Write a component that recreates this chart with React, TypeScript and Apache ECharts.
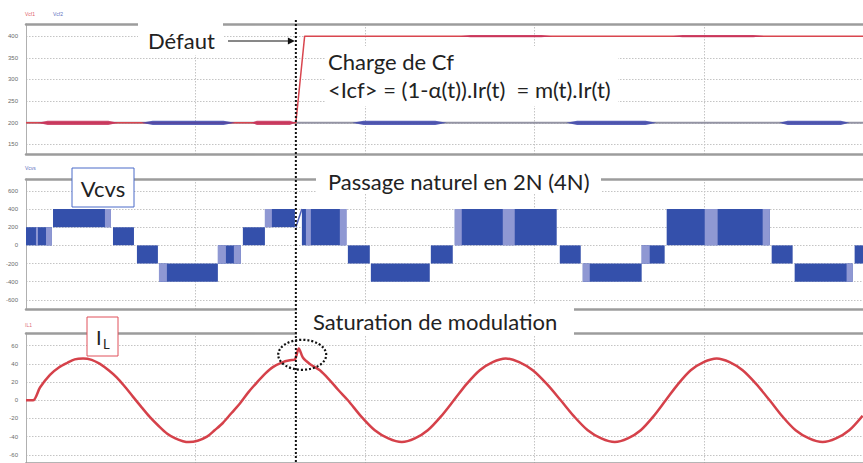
import React, { useEffect, useRef } from "react";
import * as echarts from "echarts";

// time axis in ms
const X_MAX = 79;
const X_STEP = 16;
const FAULT_T = 25.47;

// Panel 1 : capacitor voltages (V)
const vcf1Line: [number, number][] = [[0, 200], [25.47, 200], [26.3, 400], [79, 400]];
const vcf2Line: [number, number][] = [[0, 200], [79, 200]];
// ripple bursts: [start, end, level, amplitude]
const vcf1Ripple: number[][] = [[1.13, 8.68, 200, 5], [21.3, 25.4, 200, 5], [40.9, 49.7, 400, 2.5], [60.9, 69.7, 400, 2.5]];
const vcf2Ripple: number[][] = [[10.9, 19.7, 200, 5], [30.8, 39.7, 200, 5], [51.0, 59.5, 200, 5], [71.1, 77.7, 200, 5]];

// Panel 2 : Vcvs levels: [start, end, low, high]
const vcvsBlocks: number[][] = [
  [0, 2.45, 0, 200], [2.55, 8.02, 200, 400], [8.21, 10.19, 0, 200], [10.47, 12.45, -200, 0],
  [12.55, 18.11, -400, -200], [18.11, 20.28, -200, 0], [20.47, 22.55, 0, 200], [22.55, 25.38, 200, 400],
  [26.04, 30.19, 0, 400], [30.38, 32.45, -200, 0], [32.55, 38.11, -400, -200], [38.21, 40.28, -200, 0],
  [40.47, 50.09, 0, 400], [50.38, 52.36, -200, 0], [52.55, 58.11, -400, -200], [58.11, 60.28, -200, 0],
  [60.47, 70.19, 0, 400], [70.38, 72.36, -200, 0], [72.55, 78.02, -400, -200], [78.21, 79, -200, 0],
];
const vcvsLight: number[][] = [
  [0.94, 1.13, 0, 200], [1.89, 2.45, 0, 200], [7.45, 8.02, 200, 400], [12.55, 13.3, -400, -200],
  [18.11, 18.87, -200, 0], [19.62, 20.28, -200, 0], [22.55, 23.21, 200, 400],
  [26.42, 26.89, 0, 400], [29.62, 30.28, 0, 400], [40.47, 41.13, 0, 400], [45.0, 46.13, 0, 400],
  [52.55, 53.21, -400, -200], [58.11, 58.87, -200, 0], [64.06, 65.28, 0, 400], [69.53, 70.19, 0, 400],
  [77.45, 78.02, -400, -200],
];
const vcvsRamp: [number, number][] = [[25.47, 200], [26.04, 400]];

// Panel 3 : inductor current (A)
const ilPoints: [number, number][] = [
  [0, 0], [0.66, 0], [1.32, 14], [2.26, 28], [3.1, 36], [3.87, 41], [4.6, 45], [5.38, 46], [6.2, 44.5],
  [6.98, 40], [7.8, 33], [8.58, 25], [9.4, 14], [10.09, 4], [10.9, -7.5], [11.7, -18.5], [12.5, -28],
  [13.3, -36.5], [14.1, -42], [14.81, -45], [15.38, -46], [16.2, -44.5], [17.08, -40], [17.8, -33],
  [18.58, -25], [19.4, -14], [20.19, -3.5], [21.0, 9], [21.79, 19.5], [22.6, 29.5], [23.3, 36.5], [24.25, 42],
  [24.91, 44], [25.38, 45], [25.75, 57], [26.13, 47], [26.79, 40], [27.74, 33], [28.68, 22], [29.5, 11],
  [30.38, 0], [31.65, -18], [32.92, -33], [34.2, -42], [35.47, -46], [36.7, -42], [37.92, -33],
  [39.15, -18], [40.38, 0], [41.6, 18], [42.83, 33], [44.05, 42], [45.28, 46], [46.55, 42], [47.83, 33],
  [49.15, 18], [50.47, 0], [51.75, -18], [53.02, -33], [54.3, -42], [55.57, -46], [56.8, -42],
  [58.02, -33], [59.2, -18], [60.38, 0], [61.56, 18], [62.74, 33], [63.96, 42], [65.19, 46], [66.41, 42],
  [67.64, 33], [68.91, 18], [70.19, 0], [71.41, -18], [72.64, -33], [73.91, -42], [75.19, -46],
  [76.45, -42], [77.7, -33], [78.96, -17],
];

const yRanges = [
  { min: 128, max: 428, split: 6 },
  { min: -700, max: 730, split: 7 },
  { min: -69, max: 74, split: 7 },
];
const gridTops = [24, 179, 333];
const GRID_H = 130;

const FONT = "Lato, 'Open Sans', sans-serif";

export default function App() {
  const ref = useRef<HTMLDivElement>(null);
  useEffect(() => {
    document.body.style.margin = "0";
    const chart = echarts.init(ref.current!, null, { renderer: "svg" });

    const blockRender = (fill: string) => (_p: any, api: any) => {
      const a = api.coord([api.value(0), api.value(3)]);
      const b = api.coord([api.value(1), api.value(2)]);
      return {
        type: "rect",
        shape: { x: a[0], y: a[1], width: b[0] - a[0], height: b[1] - a[1] },
        style: { fill },
      };
    };
    const rippleRender = (fill: string) => (_p: any, api: any) => {
      const x0 = api.value(0), x1 = api.value(1), lvl = api.value(2), amp = api.value(3);
      const l = api.coord([x0, lvl]);
      const r = api.coord([x1, lvl]);
      const top = api.coord([x0, lvl + amp])[1];
      const bot = api.coord([x0, lvl - amp])[1];
      const w = r[0] - l[0];
      return {
        type: "polygon",
        shape: {
          points: [
            [l[0], l[1]], [l[0] + w * 0.12, top], [r[0] - w * 0.12, top],
            [r[0], r[1]], [r[0] - w * 0.12, bot], [l[0] + w * 0.12, bot],
          ],
        },
        style: { fill, opacity: 0.85 },
      };
    };

    const grids = gridTops.map((t) => ({ left: 26, right: 0, top: t, height: GRID_H }));
    const xBottom = gridTops.map((_, i) => ({
      type: "value", gridIndex: i, min: 0, max: X_MAX, interval: X_STEP,
      axisLine: { show: true, onZero: false, lineStyle: { color: "#9c9c9c", width: 2.5 } },
      axisTick: { show: false }, axisLabel: { show: false },
      splitLine: { show: true, showMaxLine: false, showMinLine: false, lineStyle: { color: "#c4c4c4", type: [1.5, 1.5], width: 1 } },
    }));
    const xTop = gridTops.map((_, i) => ({
      type: "value", gridIndex: i, position: "top", min: 0, max: X_MAX, interval: X_STEP,
      axisLine: { show: true, onZero: false, lineStyle: { color: "#9c9c9c", width: 2.5 } },
      axisTick: { show: false }, axisLabel: { show: false }, splitLine: { show: false },
    }));
    const yAxes = yRanges.map((r, i) => ({
      type: "value", gridIndex: i, min: r.min, max: r.max, splitNumber: r.split,
      axisLine: { show: true, lineStyle: { color: "#b0b0b0", width: 1 } },
      axisTick: { show: false },
      axisLabel: { show: true, showMinLabel: false, showMaxLabel: false, fontSize: 6, color: "#6a6a6a", margin: 8, fontFamily: "'Liberation Sans', Arial, sans-serif" },
      splitLine: { show: true, showMinLine: false, showMaxLine: false, lineStyle: { color: "#c4c4c4", type: [1.5, 1.5], width: 1 } },
    }));

    chart.setOption({
      animation: false,
      backgroundColor: "#ffffff",
      grid: grids,
      xAxis: [...xBottom, ...xTop],
      yAxis: yAxes,
      series: [
        { name: "Vcf2", type: "line", xAxisIndex: 0, yAxisIndex: 0, data: vcf2Line, showSymbol: false, lineStyle: { color: "#9494a4", width: 2 }, z: 3 },
        { name: "Vcf1", type: "line", xAxisIndex: 0, yAxisIndex: 0, data: vcf1Line, showSymbol: false, lineStyle: { color: "#d9464f", width: 1.5 }, z: 4 },
        { name: "Vcf1 ripple", type: "custom", xAxisIndex: 0, yAxisIndex: 0, data: vcf1Ripple, encode: { x: [0, 1], y: 2 }, renderItem: rippleRender("#c8325a"), z: 5 },
        { name: "Vcf2 ripple", type: "custom", xAxisIndex: 0, yAxisIndex: 0, data: vcf2Ripple, encode: { x: [0, 1], y: 2 }, renderItem: rippleRender("#4048ae"), z: 5 },
        { name: "Vcvs", type: "custom", xAxisIndex: 1, yAxisIndex: 1, data: vcvsBlocks, encode: { x: [0, 1], y: [2, 3] }, renderItem: blockRender("#3450ab"), z: 3 },
        { name: "Vcvs light", type: "custom", xAxisIndex: 1, yAxisIndex: 1, data: vcvsLight, encode: { x: [0, 1], y: [2, 3] }, renderItem: blockRender("#8f98d3"), z: 4 },
        { name: "Vcvs ramp", type: "line", xAxisIndex: 1, yAxisIndex: 1, data: vcvsRamp, showSymbol: false, lineStyle: { color: "#5060b8", width: 1.5 }, z: 4 },
        { name: "IL", type: "line", xAxisIndex: 2, yAxisIndex: 2, data: ilPoints, showSymbol: false, smooth: 0.3, lineStyle: { color: "#d5414a", width: 2.5 }, z: 4 },
      ],
    });

    const fx = chart.convertToPixel({ xAxisIndex: 0 }, FAULT_T) as number;
    const ellC = chart.convertToPixel({ xAxisIndex: 2, yAxisIndex: 2 } as any, [FAULT_T + 0.6, 50]) as number[];
    const txt = (text: string, x: number, y: number, size: number, extra: any = {}) => ({
      type: "text", z: 102, style: { text, x, y, font: `${size}px ${FONT}`, fill: "#222", verticalAlign: "middle", align: "left", ...extra },
    });
    const small = (text: string, x: number, y: number, color: string) => ({
      type: "text", z: 102, style: { text, x, y, font: "5px 'Liberation Sans', Arial, sans-serif", fill: color, verticalAlign: "middle" },
    });
    const whiteRect = (x: number, y: number, w: number, h: number, stroke?: string) => ({
      type: "rect", z: 100, shape: { x, y, width: w, height: h },
      style: { fill: "#ffffff", stroke: stroke || null, lineWidth: stroke ? 1 : 0 },
    });

    chart.setOption({
      graphic: [
        small("Vcf1", 25, 14, "#e0606a"),
        small("Vcf2", 53, 14, "#6070c0"),
        small("Vcvs", 25, 168, "#6070c0"),
        small("IL1", 25, 325, "#e0707a"),
        { type: "line", z: 99, shape: { x1: fx, y1: 20, x2: fx, y2: 463 }, style: { stroke: "#111", lineWidth: 2, lineDash: [2, 2] } },
        whiteRect(138, 19, 85, 36),
        txt("Défaut", 148, 40, 22),
        { type: "line", z: 102, shape: { x1: 228, y1: 41, x2: fx - 6, y2: 41 }, style: { stroke: "#111", lineWidth: 1 } },
        { type: "polygon", z: 102, shape: { points: [[fx - 1, 41], [fx - 8, 37.5], [fx - 8, 44.5]] }, style: { fill: "#111" } },
        whiteRect(325, 46, 293, 60),
        txt("Charge de Cf", 328, 61, 22),
        txt("<Icf> = (1-α(t)).Ir(t)  = m(t).Ir(t)", 328, 89, 22),
        whiteRect(72, 168, 62, 39, "#4a6ac8"),
        txt("Vcvs", 103, 188, 22, { align: "center" }),
        whiteRect(316, 166, 285, 28),
        txt("Passage naturel en 2N (4N)", 328, 181, 22),
        whiteRect(297, 304, 277, 32),
        txt("Saturation de modulation", 313, 321, 22),
        whiteRect(87, 317, 31, 39, "#e0505a"),
        txt("I", 96, 337, 20),
        txt("L", 103, 344, 13),
        { type: "ellipse", z: 103, shape: { cx: ellC[0], cy: ellC[1], rx: 24, ry: 15 }, style: { fill: null, stroke: "#111", lineWidth: 2.2, lineDash: [2, 2] } },
      ],
    });

    return () => chart.dispose();
  }, []);
  return <div ref={ref} style={{ width: 863, height: 463 }} />;
}
